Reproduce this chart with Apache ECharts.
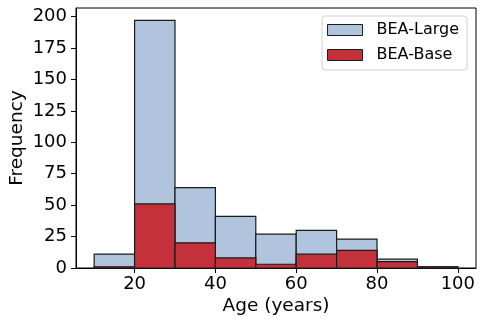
<!DOCTYPE html>
<html>
<head>
<meta charset="utf-8">
<script src="https://cdn.jsdelivr.net/npm/echarts@6/dist/echarts.min.js"></script>
<style>
  html, body { margin: 0; padding: 0; background: #fff; }
  #chart { width: 485px; height: 327px; }
</style>
</head>
<body>
<div id="chart"></div>
<script>
// 分箱边界（年龄）
const binStarts = [10, 20, 30, 40, 50, 60, 70, 80, 90]
const binWidth = 10
// 各分箱频数
const largeCounts = [11, 197, 64, 41, 27, 30, 23, 7, 1]
const baseCounts = [1, 51, 20, 8, 3, 11, 14, 5, 1]
// 刻度
const xTicks = [20, 40, 60, 80, 100]
const yTicks = [0, 25, 50, 75, 100, 125, 150, 175, 200]

const font = 'DejaVu Sans'

const makeData = (counts) => binStarts.map((s, i) => [s, s + binWidth, counts[i]])

const renderBin = (params, api) => {
  const p0 = api.coord([api.value(0), 0])
  const p1 = api.coord([api.value(1), api.value(2)])
  return {
    type: 'rect',
    shape: { x: p0[0], y: p1[1], width: p1[0] - p0[0], height: p0[1] - p1[1] },
    style: api.style({ stroke: '#1a1a1a', lineWidth: 1.2 })
  }
}

const chart = echarts.init(document.getElementById('chart'))
chart.setOption({
  animation: false,
  textStyle: { fontFamily: font },
  grid: {
    left: 76, right: 9, top: 8, bottom: 59,
    outerBoundsMode: 'none',
    containLabel: false,
    show: true, borderColor: '#000', borderWidth: 1
  },
  legend: {
    right: 18, top: 16,
    orient: 'vertical',
    itemWidth: 35, itemHeight: 11,
    itemGap: 9,
    icon: 'rect',
    padding: [6, 8, 7, 5],
    borderColor: '#d0d0d0', borderWidth: 1, borderRadius: 3,
    backgroundColor: '#fff',
    textStyle: { fontFamily: font, fontSize: 16, color: '#000', padding: [0, 0, 0, 9] },
    itemStyle: { borderColor: '#1a1a1a', borderWidth: 1 },
    data: ['BEA-Large', 'BEA-Base']
  },
  xAxis: {
    type: 'value',
    min: 5.5, max: 104.5,
    name: 'Age (years)',
    nameLocation: 'middle',
    nameGap: 29,
    nameMoveOverlap: false,
    nameTextStyle: { fontFamily: font, fontSize: 18.5, color: '#000' },
    axisLine: { show: true, onZero: false, lineStyle: { color: '#000' } },
    axisTick: { show: true, length: 5, customValues: xTicks, lineStyle: { color: '#000' } },
    axisLabel: { customValues: xTicks, fontSize: 18, color: '#000', margin: 7 },
    splitLine: { show: false }
  },
  yAxis: {
    type: 'value',
    min: 0, max: 206.85,
    name: 'Frequency',
    nameLocation: 'middle',
    nameGap: 49,
    nameMoveOverlap: false,
    nameTextStyle: { fontFamily: font, fontSize: 18.5, color: '#000' },
    axisLine: { show: true, lineStyle: { color: '#000' } },
    axisTick: { show: true, length: 5, customValues: yTicks, lineStyle: { color: '#000' } },
    axisLabel: { customValues: yTicks, fontSize: 18, color: '#000', margin: 9 },
    splitLine: { show: false }
  },
  series: [
    {
      name: 'BEA-Large',
      type: 'custom',
      renderItem: renderBin,
      itemStyle: { color: '#b0c4de' },
      encode: { x: [0, 1], y: 2 },
      data: makeData(largeCounts)
    },
    {
      name: 'BEA-Base',
      type: 'custom',
      renderItem: renderBin,
      itemStyle: { color: '#c4313a' },
      encode: { x: [0, 1], y: 2 },
      data: makeData(baseCounts)
    }
  ]
})
</script>
</body>
</html>
